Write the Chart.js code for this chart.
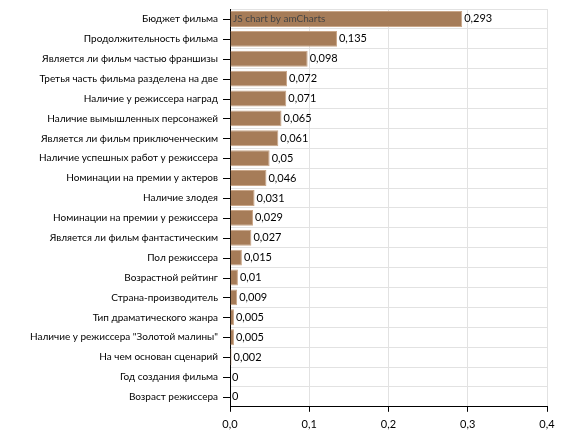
<!DOCTYPE html>
<html>
<head>
<meta charset="utf-8">
<script src="https://cdn.jsdelivr.net/npm/chart.js@4"></script>
<style>
  html, body { margin: 0; padding: 0; background: #fff; }
  #wrap { width: 574px; height: 441px; }
</style>
</head>
<body>
<div id="wrap"><canvas id="mychart"></canvas></div>
<script>
Chart.defaults.font.family = "Lato, sans-serif";
Chart.defaults.font.size = 10;
Chart.defaults.color = "#000000";

var factors = [
   "Бюджет фильма",
   "Продолжительность фильма",
   "Является ли фильм частью франшизы",
   "Третья часть фильма разделена на две",
   "Наличие у режиссера наград",
   "Наличие вымышленных персонажей",
   "Является ли фильм приключенческим",
   "Наличие успешных работ у режиссера",
   "Номинации на премии у актеров",
   "Наличие злодея",
   "Номинации на премии у режиссера",
   "Является ли фильм фантастическим",
   "Пол режиссера",
   "Возрастной рейтинг",
   "Страна-производитель",
   "Тип драматического жанра",
   "Наличие у режиссера \"Золотой малины\"",
   "На чем основан сценарий",
   "Год создания фильма",
   "Возраст режиссера"
];
var importance = [0.293, 0.135, 0.098, 0.072, 0.071, 0.065, 0.061, 0.05, 0.046, 0.031,
                  0.029, 0.027, 0.015, 0.01, 0.009, 0.005, 0.005, 0.002, 0, 0];

function fmt(v) {
   return String(v).replace(".", ",");
}

// value labels, y tick marks and the amCharts watermark
var extras = {
   id: "extras",
   afterDatasetsDraw: function (chart) {
      var ctx = chart.ctx;
      var meta = chart.getDatasetMeta(0);
      var y = chart.scales.y;
      ctx.save();
      ctx.strokeStyle = "#000";
      ctx.lineWidth = 1;
      for (var i = 0; i < factors.length; i++) {
         var py = Math.round(y.getPixelForValue(i)) + 0.5;
         ctx.beginPath();
         ctx.moveTo(y.right - 7, py);
         ctx.lineTo(y.right, py);
         ctx.stroke();
      }
      ctx.font = "11px Lato, sans-serif";
      ctx.fillStyle = "#000";
      ctx.textBaseline = "middle";
      meta.data.forEach(function (bar, i) {
         ctx.fillText(fmt(importance[i]), bar.x + 2, bar.y);
      });
      ctx.font = "10px Lato, sans-serif";
      ctx.fillStyle = "#444";
      ctx.fillText("JS chart by amCharts", chart.chartArea.left + 3, meta.data[0].y);
      ctx.restore();
   }
};

new Chart(document.getElementById("mychart"), {
   type: "bar",
   data: {
      labels: factors,
      datasets: [{
         data: importance,
         backgroundColor: "#a67c58",
         borderColor: "#c9a688",
         borderWidth: 1,
         categoryPercentage: 1,
         barPercentage: 0.8
      }]
   },
   options: {
      indexAxis: "y",
      responsive: true,
      maintainAspectRatio: false,
      animation: false,
      layout: { padding: { top: 0, right: 27, bottom: 4, left: 0 } },
      plugins: { legend: { display: false }, tooltip: { enabled: false } },
      scales: {
         x: {
            min: 0,
            max: 0.4,
            ticks: {
               stepSize: 0.1,
               padding: 6,
               font: { size: 11 },
               callback: function (v) { return v.toFixed(1).replace(".", ","); }
            },
            grid: { color: "#e2e2e2", tickColor: "#000", tickLength: 5 },
            border: { color: "#000" }
         },
         y: {
            ticks: { padding: 12 },
            grid: { color: "#e2e2e2", offset: true, drawTicks: false },
            border: { color: "#000" },
            afterFit: function (s) {
               s.width = 230;
               s.paddingTop = 9;
               s.paddingBottom = 0;
            }
         }
      }
   },
   plugins: [extras]
});
</script>
</body>
</html>
